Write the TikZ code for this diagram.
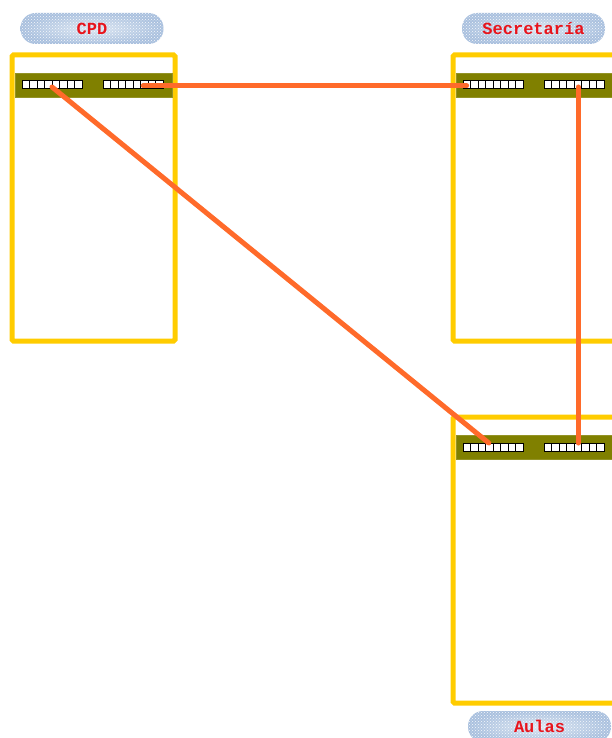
\documentclass[tikz,border=0pt]{standalone}
\usepackage{fontspec}
\setmonofont{Liberation Mono}
\usetikzlibrary{calc, positioning, patterns}
\definecolor{RackGold}{HTML}{FFCC00}
\definecolor{SwitchOlive}{HTML}{808000}
\definecolor{LinkOrange}{HTML}{FF6A2A}
\definecolor{TagSteel}{HTML}{A9C0DE}
\definecolor{TagMist}{HTML}{DCE6F2}
\definecolor{TagRed}{HTML}{E8141C}

\tikzset{
    rack/.style={draw=RackGold, line width=5pt, rounded corners=1.5pt, outer sep=0pt,
        minimum width=163pt, minimum height=286pt, inner sep=0pt},
    switchbar/.style={fill=SwitchOlive, draw=SwitchOlive!85!white, line width=0.6pt, outer sep=0pt,
        minimum width=157pt, minimum height=24pt, inner sep=0pt},
    portstrip/.style={fill=white, draw=black, line width=1pt, outer sep=0pt,
        minimum width=60pt, minimum height=8pt, inner sep=0pt,
        path picture={
            \foreach \k in {1,...,7}
                \draw[black, line width=1pt] ($(path picture bounding box.south west)!\k/8!(path picture bounding box.south east)$) -- ++(0pt,8pt);
        }},
    sitetag/.style={rounded corners=15pt, inner color=TagMist, outer color=TagSteel, outer sep=0pt,
        minimum width=143pt, minimum height=31pt, text=TagRed,
        font=\ttfamily\bfseries\fontsize{17}{17}\selectfont,
        postaction={pattern=crosshatch dots, pattern color=white!90!TagSteel}},
    link/.style={LinkOrange, line width=5pt, line cap=round},
}

\begin{document}
\begin{tikzpicture}[x=1pt, y=-1pt]
    \useasboundingbox (0,0) rectangle (612,738);
    \clip (0,0) rectangle (612,738);

    % racks
    \node[rack] (cpd) at (93.5,198) {};
    \node[rack] (secre) at (534.5,198) {};
    \node[rack] (aulas) at (534.5,560) {};

    % switches
    \node[switchbar, below=18pt of cpd.north] (cpdsw) {};
    \node[switchbar, below=18pt of secre.north] (secresw) {};
    \node[switchbar, below=18pt of aulas.north] (aulassw) {};

    \node[portstrip, right=7pt of cpdsw.west] (cpdL) {};
    \node[portstrip, left=9pt of cpdsw.east] (cpdR) {};
    \node[portstrip, right=7pt of secresw.west] (secreL) {};
    \node[portstrip, left=9pt of secresw.east] (secreR) {};
    \node[portstrip, right=7pt of aulassw.west] (aulasL) {};
    \node[portstrip, left=9pt of aulassw.east] (aulasR) {};

    % site labels
    \node[sitetag, above=11pt of cpd.north, xshift=-1.5pt] (cpdtag) {CPD};
    \node[sitetag, above=11pt of secre.north, xshift=-1pt] (secretag) {Secretaría};
    \node[sitetag, below=8pt of aulas.south, xshift=5pt] (aulastag) {Aulas};

    % uplinks
    \draw[link] ($(cpdR.west)!0.67!(cpdR.east)+(0,1)$) -- ($(secreL.west)!0.06!(secreL.east)+(0,1)$);
    \draw[link] ($(cpdL.center)+(0,2)$) -- ($(aulasL.north west)!0.43!(aulasL.north east)$);
    \draw[link] ($(secreR.west)!0.57!(secreR.east)+(0,2)$) -- ($(aulasR.north west)!0.57!(aulasR.north east)$);
\end{tikzpicture}
\end{document}
